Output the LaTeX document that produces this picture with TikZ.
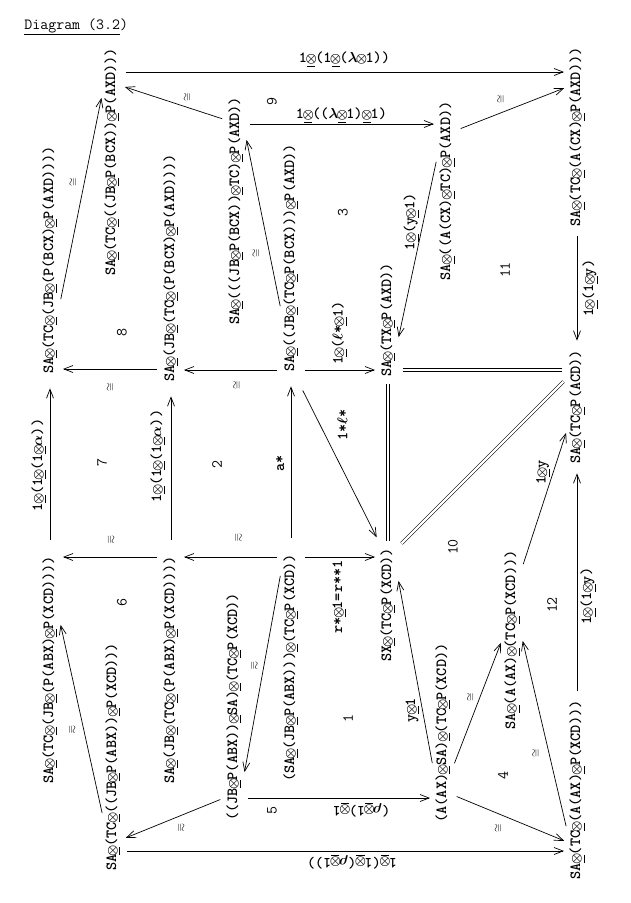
\documentclass[tikz,border=0pt]{standalone}
\usetikzlibrary{arrows.meta}
\newcommand{\objfont}{\fontsize{15.5}{18}\selectfont\ttfamily\bfseries}
\newcommand{\isofont}{\fontsize{11}{13}\selectfont}
\newcommand{\ox}{\makebox[0.525em]{\scalebox{0.88}{$\boldsymbol{\otimes}$}}}
\newcommand{\ux}{\underline{\ox}}
\usepackage{amsmath}
\begin{document}
\begin{tikzpicture}[x=1pt, y=-1pt, line width=0.7pt,
    obj/.style={rotate=90, inner sep=2pt, font=\objfont},
    lbl/.style={inner sep=1pt, font=\objfont},
    num/.style={rotate=90, inner sep=1pt, font=\fontsize{15.5}{18}\selectfont\ttfamily},
    iso/.style={rotate=90, inner sep=1pt, font=\isofont},
    isor/.style={rotate=-90, inner sep=1pt, font=\isofont},
    arr/.style={-{Straight Barb[length=9pt,width=7pt]}, shorten <=4pt, shorten >=3pt},
    gap/.style={shorten <=14pt, shorten >=12pt},
    eq/.style={double, double distance=2.2pt, line width=0.6pt, shorten <=5pt, shorten >=5pt}]
    \path[use as bounding box, fill=white] (0,0) rectangle (631,903);

    % Title
    \node[lbl, anchor=west, inner sep=0pt, font=\fontsize{15.5}{18}\selectfont\ttfamily] (title) at (24,27) {\underline{Diagram (3.2})};

    % Row a nodes
    \node[obj] (a1) at (50,260) {SA\ux(TC\ux(JB\ux(P(BCX)\ux P(AXD))))};
    \node[obj] (a2) at (50,670) {SA\ux(TC\ux(JB\ux(P(ABX)\ux P(XCD))))};
    % Row b nodes
    \node[obj] (b1) at (112,162) {SA\ux(TC\ux((JB\ux P(BCX))\ux P(AXD)))};
    \node[obj] (b2) at (113,757) {SA\ux(TC\ux((JB\ux P(ABX))\ux P(XCD)))};
    % Row c nodes
    \node[obj] (c1) at (171,268) {SA\ux(JB\ux(TC\ux(P(BCX)\ux P(AXD))))};
    \node[obj] (c2) at (171,670) {SA\ux(JB\ux(TC\ux(P(ABX)\ux P(XCD))))};
    % Row d nodes
    \node[obj] (d1) at (236,211) {SA\ux(((JB\ux P(BCX))\ux TC)\ux P(AXD))};
    \node[obj] (d2) at (234,707) {((JB\ux P(ABX))\ux SA)\ux(TC\ux P(XCD))};
    % Row e nodes
    \node[obj] (e1) at (291,258) {SA\ux((JB\ux(TC\ux P(BCX)))\ux P(AXD))};
    \node[obj] (e2) at (291,668) {(SA\ux(JB\ux P(ABX)))\ux(TC\ux P(XCD))};
    % Row f nodes
    \node[obj] (f1) at (388,320) {SA\ux(TX\ux P(AXD))};
    \node[obj] (f2) at (388,605) {SX\ux(TC\ux P(XCD))};
    % Row g nodes
    \node[obj] (g1) at (447,191) {SA\ux((A(CX)\ux TC)\ux P(AXD))};
    \node[obj] (g2) at (443,733) {(A(AX)\ux SA)\ux(TC\ux P(XCD))};
    % Row h node
    \node[obj] (h1) at (512,640) {SA\ux(A(AX)\ux(TC\ux P(XCD)))};
    % Row i nodes
    \node[obj] (i1) at (577,137) {SA\ux(TC\ux(A(CX)\ux P(AXD)))};
    \node[obj] (i2) at (577,407) {SA\ux(TC\ux P(ACD))};
    \node[obj] (i3) at (577,790) {SA\ux(TC\ux(A(AX)\ux P(XCD)))};

    % Edges along a row
    \draw[arr, gap] (a2.east) -- (a1.west) node[midway, xshift=-11pt, lbl, rotate=90] {1\ux(1\ux(1\ux$\boldsymbol{\alpha}$))};
    \draw[arr, gap] (c2.east) -- (c1.west) node[midway, xshift=-13pt, yshift=13pt, lbl, rotate=90] {1\ux(1\ux(1\ux$\boldsymbol{\alpha}$))};
    \draw[arr, gap] (e2.east) -- (e1.west) node[midway, xshift=-11pt, lbl, rotate=90] {a*};
    \draw[eq] (f2.east) -- (f1.west);
    \draw[arr, shorten <=7pt, shorten >=7pt] (i1.west) -- (i2.east) node[midway, xshift=13pt, lbl, rotate=90] {1\ux(1\ux y)};
    \draw[arr, shorten <=7pt, shorten >=7pt] (i3.east) -- (i2.west) node[midway, xshift=11pt, yshift=-14pt, lbl, rotate=90] {1\ux(1\ux y)};

    % Edges between rows
    \draw[arr] (b1.south |- 0,72) -- (i1.north |- 0,72) node[midway, above=4pt, lbl] {1\ux(1\ux($\boldsymbol{\lambda}$\ox 1))};
    \draw[arr] (d1.south |- 0,124) -- (g1.north |- 0,124) node[midway, above, lbl] {1\ux(($\boldsymbol{\lambda}$\ux 1)\ux 1)};
    \draw[arr] (d2.south |- 0,798) -- (g2.north |- 0,798) node[midway, xshift=23pt, yshift=-12pt, lbl, rotate=180] {($\boldsymbol{\rho}$\ux 1)\ux 1};
    \draw[arr] (b2.south |- 0,851) -- (i3.north |- 0,851) node[midway, xshift=7pt, yshift=-11pt, lbl, rotate=180] {1\ux(1\ux($\boldsymbol{\rho}$\ux 1))};
    \draw[arr] (c1.north |- 0,369) -- (a1.south |- 0,369) node[midway, yshift=-18pt, iso] {$\cong$};
    \draw[arr] (c2.north |- 0,557) -- (a2.south |- 0,557) node[midway, yshift=17pt, isor] {$\cong$};
    \draw[arr] (e1.north |- 0,370) -- (c1.south |- 0,370) node[midway, xshift=6pt, yshift=-15pt, iso] {$\cong$};
    \draw[arr] (e2.north |- 0,557) -- (c2.south |- 0,557) node[midway, xshift=7pt, yshift=19pt, isor] {$\cong$};
    \draw[arr] (e1.south |- 0,370) -- (f1.north |- 0,370) node[midway, yshift=37pt, lbl, rotate=90] {1\ux($\boldsymbol{\ell}$*\ux 1)};
    \draw[arr] (e2.south |- 0,557) -- (f2.north |- 0,557) node[midway, yshift=-40pt, lbl, rotate=90] {r*\ux 1=r**1};
    \draw[eq] (f1.south |- 0,370) -- (i2.north |- 0,370);

    % Slanted edges
    \draw[arr] (a1.south |- 0,303) -- (b1.north |- 0,95) node[pos=0.58, xshift=-11pt, iso] {$\cong$};
    \draw[arr] (d1.north |- 0,120) -- (b1.south |- 0,86) node[pos=0.37, yshift=10pt, iso] {$\cong$};
    \draw[arr] (g1.south |- 0,130) -- (i1.north |- 0,87) node[pos=0.4, yshift=14pt, iso] {$\cong$};
    \draw[arr] (e1.north |- 0,310) -- (d1.south |- 0,137) node[pos=0.33, xshift=-13pt, iso] {$\cong$};
    \draw[arr] (g1.north |- 0,158) -- (f1.south |- 0,340) node[pos=0.35, xshift=-12pt, lbl, rotate=90] {1\ux(y\ux 1)};
    \draw[arr] (e1.south |- 0,387) -- (f2.north |- 0,540) node[pos=0.25, xshift=22pt, lbl, rotate=90] {1*$\boldsymbol{\ell}$*};
    \draw[eq] (f2.south |- 0,547) -- (i2.north |- 0,378);
    \draw[arr] (e2.north |- 0,572) -- (d2.south |- 0,775) node[pos=0.46, xshift=-10pt, isor] {$\cong$};
    \draw[arr] (d2.north |- 0,798) -- (b2.south |- 0,839) node[pos=0.43, yshift=-12pt, isor] {$\cong$};
    \draw[arr] (b2.north |- 0,817) -- (a2.south |- 0,622) node[pos=0.45, xshift=-12pt, isor] {$\cong$};
    \draw[arr] (g2.north |- 0,767) -- (f2.south |- 0,578) node[pos=0.3, xshift=-10pt, lbl, rotate=90] {y\ux 1};
    \draw[arr] (g2.south |- 0,767) -- (h1.north |- 0,640) node[pos=0.55, xshift=-9pt, iso] {$\cong$};
    \draw[arr] (i3.north |- 0,830) -- (h1.south |- 0,638) node[pos=0.4, xshift=-13pt, iso] {$\cong$};
    \draw[arr] (g2.south |- 0,795) -- (i3.north |- 0,842) node[pos=0.4, yshift=-14pt, iso] {$\cong$};
    \draw[arr] (h1.south |- 0,568) -- (i2.north |- 0,430) node[pos=0.69, xshift=-10pt, lbl, rotate=90] {1\ux y};

    % Region numbers
    \node[num] (r1) at (348,718) {1};
    \node[num] (r2) at (217,465) {2};
    \node[num] (r3) at (343,213) {3};
    \node[num] (r4) at (503,775) {4};
    \node[num] (r5) at (272,810) {5};
    \node[num] (r6) at (122,603) {6};
    \node[num] (r7) at (102,463) {7};
    \node[num] (r8) at (122,333) {8};
    \node[num] (r9) at (272,102) {9};
    \node[num] (r10) at (453,547) {10};
    \node[num] (r11) at (505,270) {11};
    \node[num] (r12) at (552,605) {12};
\end{tikzpicture}
\end{document}
